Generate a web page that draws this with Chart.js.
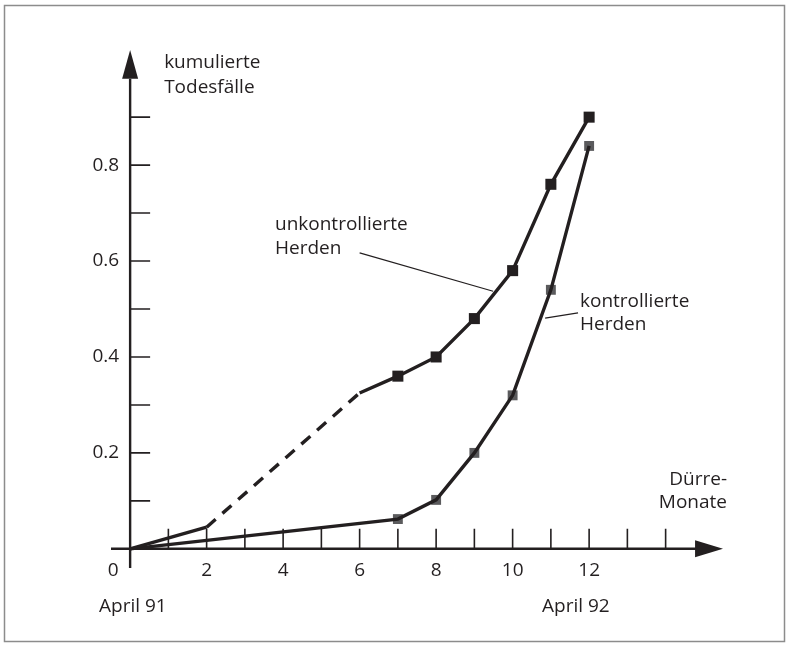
<!DOCTYPE html>
<html>
<head>
<meta charset="utf-8">
<script src="https://cdn.jsdelivr.net/npm/chart.js@4"></script>
<style>
  html, body { margin: 0; padding: 0; background: #fff; }
  canvas { display: block; }
</style>
</head>
<body>
<canvas id="chart" width="789" height="647"></canvas>
<script>
// ------------------------------------------------------------
// DATA
// ------------------------------------------------------------
const uncontrolledMonths = [0, 2, 6, 7, 8, 9, 10, 11, 12];
const uncontrolledDeaths = [0, 0.045, 0.325, 0.36, 0.40, 0.48, 0.58, 0.76, 0.90];
const controlledMonths = [0, 7, 8, 9, 10, 11, 12];
const controlledDeaths = [0, 0.062, 0.102, 0.20, 0.32, 0.54, 0.84];

const xTickValues = [0, 2, 4, 6, 8, 10, 12];
const xTickLabels = ['0', '2', '4', '6', '8', '10', '12'];
const xMinorTicks = [1, 2, 3, 4, 5, 6, 7, 8, 9, 10, 11, 12, 13, 14];
const yTickValues = [0.2, 0.4, 0.6, 0.8];
const yTickLabels = ['0.2', '0.4', '0.6', '0.8'];
const yMinorTicks = [0.1, 0.2, 0.3, 0.4, 0.5, 0.6, 0.7, 0.8, 0.9];

const INK = '#231f20';
const GREY = '#5b5b5d';
const FONT = "19px 'Open Sans', sans-serif";

const toPoints = (xs, ys) => xs.map((x, i) => ({ x, y: ys[i] }));

// ------------------------------------------------------------
// Hand-drawn style axes, ticks and labels
// ------------------------------------------------------------
const figurePlugin = {
  id: 'figure',
  beforeDraw(chart) {
    const ctx = chart.ctx;
    ctx.save();
    ctx.fillStyle = '#fff';
    ctx.fillRect(0, 0, chart.width, chart.height);
    ctx.strokeStyle = '#8c8c8c';
    ctx.lineWidth = 1.5;
    ctx.strokeRect(4.5, 5.5, 780, 636);
    ctx.restore();
  },
  beforeDatasetsDraw(chart) {
    const ctx = chart.ctx;
    const xs = chart.scales.x, ys = chart.scales.y;
    const X = v => xs.getPixelForValue(v);
    const Y = v => ys.getPixelForValue(v);
    const x0 = X(0), y0 = Y(0);

    ctx.save();
    ctx.strokeStyle = INK;
    ctx.fillStyle = INK;
    ctx.lineWidth = 2.4;

    // axes
    ctx.beginPath();
    ctx.moveTo(X(xs.min), y0); ctx.lineTo(X(14.8), y0);
    ctx.moveTo(x0, Y(ys.min)); ctx.lineTo(x0, Y(0.98));
    ctx.stroke();

    // arrow heads
    ctx.beginPath();
    ctx.moveTo(X(xs.max), y0);
    ctx.lineTo(X(14.77), y0 - 8.5);
    ctx.lineTo(X(14.77), y0 + 8.5);
    ctx.closePath();
    ctx.fill();
    ctx.beginPath();
    ctx.moveTo(x0, Y(ys.max));
    ctx.lineTo(x0 - 8, Y(0.98));
    ctx.lineTo(x0 + 8, Y(0.98));
    ctx.closePath();
    ctx.fill();

    // ticks
    ctx.lineWidth = 1.6;
    ctx.beginPath();
    xMinorTicks.forEach(v => { ctx.moveTo(X(v), y0); ctx.lineTo(X(v), y0 - 20); });
    yMinorTicks.forEach(v => { ctx.moveTo(x0, Y(v)); ctx.lineTo(x0 + 20, Y(v)); });
    ctx.stroke();

    // tick labels
    ctx.font = FONT;
    ctx.textBaseline = 'middle';
    ctx.textAlign = 'center';
    xTickValues.forEach((v, i) => {
      const px = v === 0 ? x0 - 17 : X(v);
      ctx.fillText(xTickLabels[i], px, y0 + 22);
    });
    ctx.textAlign = 'right';
    yTickValues.forEach((v, i) => ctx.fillText(yTickLabels[i], x0 - 11, Y(v)));

    // axis titles
    ctx.textAlign = 'left';
    ctx.fillText('kumulierte', x0 + 34, 63);
    ctx.fillText('Todesfälle', x0 + 34, 88);
    ctx.textAlign = 'right';
    ctx.fillText('Dürre-', 727, 480);
    ctx.fillText('Monate', 727, 503);
    ctx.textAlign = 'left';
    ctx.fillText('April 91', 99, 607);
    ctx.fillText('April 92', 542, 607);

    // series annotations with leader lines
    ctx.fillText('unkontrollierte', 275, 225);
    ctx.fillText('Herden', 275, 249);
    ctx.fillText('kontrollierte', 580, 302);
    ctx.fillText('Herden', 580, 325);
    ctx.lineWidth = 1.2;
    ctx.beginPath();
    ctx.moveTo(X(6.0), Y(0.617)); ctx.lineTo(X(9.49), Y(0.537));
    ctx.moveTo(X(10.85), Y(0.481)); ctx.lineTo(X(11.71), Y(0.492));
    ctx.stroke();
    ctx.restore();
  }
};

new Chart(document.getElementById('chart'), {
  type: 'scatter',
  data: {
    datasets: [
      {
        // grey markers sit underneath the controlled line
        label: 'kontrollierte Marker',
        data: toPoints(controlledMonths, controlledDeaths),
        showLine: false,
        pointStyle: 'rect',
        pointRadius: ctx => ctx.raw && ctx.raw.x > 0 ? 7 : 0,
        pointBackgroundColor: GREY,
        pointBorderWidth: 0,
        order: 3
      },
      {
        label: 'kontrollierte Herden',
        data: toPoints(controlledMonths, controlledDeaths),
        showLine: true,
        borderColor: INK,
        borderWidth: 3.4,
        pointRadius: 0,
        order: 2
      },
      {
        label: 'unkontrollierte Herden',
        data: toPoints(uncontrolledMonths, uncontrolledDeaths),
        showLine: true,
        borderColor: INK,
        borderWidth: 3.4,
        borderCapStyle: 'butt',
        segment: {
          borderDash: c => c.p0.parsed.x === 2 ? [12, 9] : []
        },
        pointStyle: 'rect',
        pointRadius: ctx => ctx.raw && ctx.raw.x >= 7 ? 7.8 : 0,
        pointBackgroundColor: INK,
        pointBorderWidth: 0,
        order: 1
      }
    ]
  },
  options: {
    responsive: false,
    animation: false,
    layout: { padding: { left: 111, right: 66, top: 50, bottom: 79 } },
    plugins: { legend: { display: false }, tooltip: { enabled: false } },
    scales: {
      x: { type: 'linear', min: -0.5, max: 15.5, display: false },
      y: { type: 'linear', min: -0.04, max: 1.04, display: false }
    }
  },
  plugins: [figurePlugin]
});
</script>
</body>
</html>
